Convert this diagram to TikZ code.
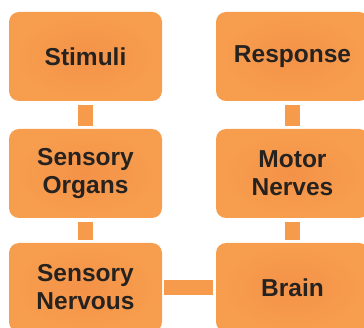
\documentclass[tikz,border=0pt]{standalone}
\usepackage{fontspec}
\setmainfont{Liberation Sans}
\definecolor{boxout}{RGB}{247,158,78}
\definecolor{boxin}{RGB}{244,146,72}
\definecolor{conn}{RGB}{246,154,76}
\definecolor{txt}{RGB}{38,34,32}
\begin{document}
\begin{tikzpicture}[x=1pt,y=-1pt,
  stage/.style={rectangle, rounded corners=10pt, minimum width=153pt, minimum height=89pt,
    inner sep=0pt, outer sep=0pt, shade, shading=radial, inner color=boxin, outer color=boxout,
    text=txt, align=center, font=\fontsize{24.5}{28}\selectfont\bfseries},
  vlink/.style={draw=conn, line width=15pt, line cap=butt, shorten <=4pt, shorten >=3pt},
  hlink/.style={draw=conn, line width=15pt, line cap=butt, shorten <=2pt, shorten >=3pt}]
\useasboundingbox (0,0) rectangle (364,328);
\clip (0,0) rectangle (364,328);
\node[stage] (stim) at (85.5,56.5) {Stimuli};
\node[stage] (sorg) at (85.5,173.5) {Sensory\\Organs};
\node[stage] (snerv) at (85.5,287.5) {Sensory\\Nervous};
\node[stage] (resp) at (292.5,56.5) {Response};
\node[stage] (motor) at (292.5,173.5) {Motor\\Nerves};
\node[stage] (brain) at (292.5,287.5) {Brain};
\draw[vlink] (stim) -- (sorg);
\draw[vlink] (sorg) -- (snerv);
\draw[hlink] (snerv) -- (brain);
\draw[vlink] (resp) -- (motor);
\draw[vlink] (motor) -- (brain);
\end{tikzpicture}
\end{document}
